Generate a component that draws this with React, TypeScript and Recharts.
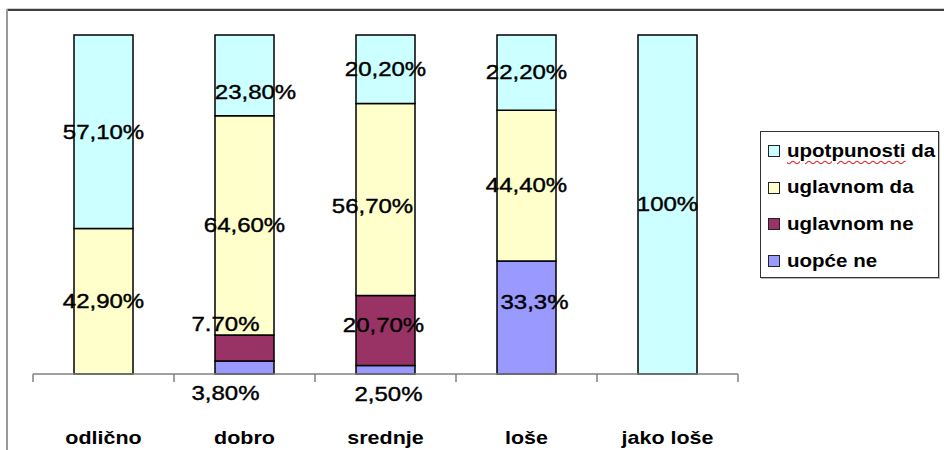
import { BarChart, Bar, XAxis, YAxis, LabelList } from 'recharts';

const categories = ['odlično', 'dobro', 'srednje', 'loše', 'jako loše'];

const uopceNe = [0, 3.8, 2.5, 33.3, 0];
const uglavnomNe = [0, 7.7, 20.7, 0, 0];
const uglavnomDa = [42.9, 64.6, 56.7, 44.4, 0];
const upotpunostiDa = [57.1, 23.8, 20.2, 22.2, 100];

const uopceNeLabels = ['', '3,80%', '2,50%', '33,3%', ''];
const uglavnomNeLabels = ['', '7.70%', '20,70%', '', ''];
const uglavnomDaLabels = ['42,90%', '64,60%', '56,70%', '44,40%', ''];
const upotpunostiDaLabels = ['57,10%', '23,80%', '20,20%', '22,20%', '100%'];

// label nudges (dx, dy) relative to segment centre, by category index
const labelNudges: Record<string, Record<number, [number, number]>> = {
  uopceNe: { 1: [-19, 26], 2: [3, 24], 3: [8, -15] },
  uglavnomNe: { 1: [-19, -24], 2: [-2, -5] },
  uglavnomDa: { 2: [-13, 7] },
  upotpunostiDa: { 1: [11, 17] },
};

const series = [
  { key: 'uopceNe', name: 'uopće ne', color: '#9999FF', values: uopceNe, labels: uopceNeLabels },
  { key: 'uglavnomNe', name: 'uglavnom ne', color: '#993366', values: uglavnomNe, labels: uglavnomNeLabels },
  { key: 'uglavnomDa', name: 'uglavnom da', color: '#FFFFCC', values: uglavnomDa, labels: uglavnomDaLabels },
  { key: 'upotpunostiDa', name: 'upotpunosti da', color: '#CCFFFF', values: upotpunostiDa, labels: upotpunostiDaLabels },
];

const data = categories.map((name, i) => {
  const row: Record<string, string | number> = { name };
  series.forEach(s => { row[s.key] = s.values[i]; });
  return row;
});

const W = 944;
const H = 450;
const MARGIN = { top: 35, right: 206, left: 33, bottom: 0 };
const BAND = (W - MARGIN.left - MARGIN.right) / categories.length;
const FONT = '"Liberation Sans", Arial, sans-serif';

const makeLabel = (key: string, texts: string[]) => (props: any) => {
  const { x, y, width, height } = props;
  const mid = Number(x) + Number(width) / 2;
  // which category this segment belongs to (zero-height segments are skipped by LabelList)
  const idx = Math.floor((mid - MARGIN.left) / BAND);
  const text = texts[idx];
  if (!text) return null;
  const [dx, dy] = labelNudges[key]?.[idx] ?? [0, 0];
  const cx = mid + dx;
  const cy = Number(y) + Number(height) / 2 + dy;
  return (
    <text
      transform={`translate(${cx},${cy}) scale(1.2,1)`}
      textAnchor="middle"
      dominantBaseline="central"
      fontFamily={FONT}
      fontSize={20}
      fill="#000"
      stroke="#000"
      strokeWidth={0.4}
    >
      {text}
    </text>
  );
};

const AxisTick = (props: any) => {
  const { x, y, payload, index } = props;
  const axisY = y - 8;
  const half = BAND / 2;
  return (
    <g>
      <line x1={x - half} x2={x - half} y1={axisY} y2={axisY + 8} stroke="#808080" strokeWidth={1.5} />
      {index === categories.length - 1 && (
        <line x1={x + half} x2={x + half} y1={axisY} y2={axisY + 8} stroke="#808080" strokeWidth={1.5} />
      )}
      <text
        transform={`translate(${x},${y + 62}) scale(1.13,1)`}
        textAnchor="middle"
        fontFamily={FONT}
        fontWeight="bold"
        fontSize={19}
        fill="#000"
      >
        {payload.value}
      </text>
    </g>
  );
};

export default function App() {
  const legendItems = [...series].reverse();
  return (
    <div style={{ position: 'relative', width: W, height: H, background: '#fff', overflow: 'hidden' }}>
      <style>{'body { margin: 0; }'}</style>
      <div style={{ position: 'absolute', left: 7, top: 8, right: 0, height: 1, background: '#cfcfcf' }} />
      <div style={{ position: 'absolute', left: 7, top: 9, right: 0, height: 1.5, background: '#404040' }} />
      <div style={{ position: 'absolute', left: 6, top: 9, width: 2, bottom: 0, background: '#999' }} />
      <div style={{ position: 'absolute', left: 0, top: 0 }}>
        <BarChart width={W} height={H} data={data} margin={MARGIN} stackOffset="expand" barSize={59}>
          <YAxis hide domain={[0, 1]} />
          <XAxis
            dataKey="name"
            height={76}
            tickSize={8}
            tickMargin={0}
            tickLine={false}
            axisLine={{ stroke: '#808080', strokeWidth: 1.5 }}
            tick={<AxisTick />}
            interval={0}
          />
          {series.map(s => (
            <Bar
              key={s.key}
              dataKey={s.key}
              name={s.name}
              stackId="a"
              fill={s.color}
              stroke="#000"
              strokeWidth={1.5}
              isAnimationActive={false}
            >
              <LabelList dataKey={s.key} content={makeLabel(s.key, s.labels)} />
            </Bar>
          ))}
        </BarChart>
      </div>
      <div
        style={{
          position: 'absolute',
          left: 760,
          top: 131,
          width: 179,
          height: 147,
          border: '1px solid #333',
          boxSizing: 'border-box',
          background: '#fff',
          boxShadow: '1px 1px 0 #bbb',
        }}
      >
        {legendItems.map((s, i) => (
          <div
            key={s.key}
            style={{
              position: 'absolute',
              left: 7,
              top: 9 + i * 36.7,
              height: 20,
              display: 'flex',
              alignItems: 'center',
              whiteSpace: 'nowrap',
            }}
          >
            <div
              style={{
                width: 12,
                height: 12,
                background: s.color,
                border: '1.5px solid #222',
                boxSizing: 'border-box',
              }}
            />
            <span
              style={{
                marginLeft: 7,
                fontFamily: FONT,
                fontWeight: 'bold',
                fontSize: 18,
                color: '#000',
                display: 'inline-block',
                transform: 'scaleX(1.14)',
                transformOrigin: 'left center',
              }}
            >
              {s.key === 'upotpunostiDa' ? (
                <>
                  <span
                    style={{
                      textDecorationLine: 'underline',
                      textDecorationStyle: 'wavy',
                      textDecorationColor: '#e02020',
                      textDecorationThickness: '1px',
                      textUnderlineOffset: '3px',
                    }}
                  >
                    upotpunosti
                  </span>
                  {' da'}
                </>
              ) : (
                s.name
              )}
            </span>
          </div>
        ))}
      </div>
    </div>
  );
}
